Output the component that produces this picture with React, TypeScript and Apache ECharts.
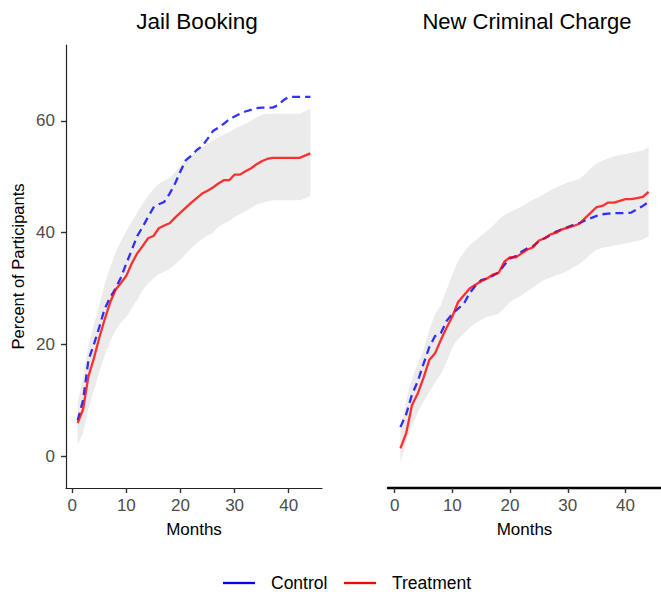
import React, { useEffect, useRef } from "react";
import * as echarts from "echarts";

const months = [1, 2, 3, 4, 5, 6, 7, 8, 9, 10, 11, 12, 13, 14, 15, 16, 17, 18, 19, 20, 21, 22, 23, 24, 25, 26, 27, 28, 29, 30, 31, 32, 33, 34, 35, 36, 37, 38, 39, 40, 41, 42, 43, 44];
const xTicks = [0, 10, 20, 30, 40];
const yTicks = [0, 20, 40, 60];
const panelTitles = ["Jail Booking", "New Criminal Charge"];
const legendNames = ["Control", "Treatment"];

const jailTreatment = [5.9, 8.4, 14.3, 17.5, 21.2, 24.5, 27.5, 29.8, 31.0, 32.3, 34.5, 36.3, 37.6, 39.0, 39.4, 40.8, 41.3, 41.7, 42.7, 43.6, 44.5, 45.4, 46.2, 47.0, 47.5, 48.1, 48.8, 49.4, 49.4, 50.4, 50.4, 51.0, 51.5, 52.2, 52.8, 53.2, 53.4, 53.4, 53.4, 53.4, 53.4, 53.4, 53.8, 54.2];
const jailControl = [6.4, 10.0, 17.2, 20.0, 23.1, 26.4, 28.4, 30.0, 32.0, 34.5, 36.9, 39.4, 41.0, 42.8, 44.5, 45.1, 45.5, 47.0, 48.8, 51.0, 53.0, 53.8, 54.8, 55.5, 56.8, 58.2, 58.8, 59.5, 60.3, 60.8, 61.3, 61.7, 62.0, 62.3, 62.4, 62.4, 62.4, 62.8, 63.7, 64.3, 64.3, 64.3, 64.3, 64.3];
const jailLower = [2.0, 4.2, 8.5, 11.8, 15.0, 18.0, 20.5, 22.6, 23.9, 24.9, 26.5, 28.0, 29.7, 30.9, 31.8, 32.6, 33.0, 33.5, 34.3, 35.2, 36.2, 37.2, 38.1, 38.9, 39.5, 40.0, 41.0, 41.6, 42.1, 42.8, 43.3, 43.8, 44.4, 45.0, 45.3, 45.6, 45.8, 45.8, 45.8, 45.8, 45.8, 45.8, 46.1, 46.6];
const jailUpper = [9.6, 14.0, 20.0, 23.5, 27.0, 30.8, 33.8, 36.5, 38.5, 40.3, 42.0, 43.6, 45.2, 46.6, 47.8, 48.7, 49.3, 49.8, 50.8, 52.0, 53.0, 53.8, 54.6, 55.3, 55.9, 56.5, 57.1, 57.6, 58.0, 58.6, 59.0, 59.5, 60.0, 60.6, 61.1, 61.3, 61.3, 61.3, 61.3, 61.3, 61.3, 61.3, 61.7, 62.2];

const chargeTreatment = [1.4, 4.1, 9.1, 11.2, 14.0, 17.2, 18.4, 20.8, 23.0, 25.0, 27.6, 28.8, 30.0, 30.7, 31.3, 31.8, 32.5, 32.8, 34.8, 35.6, 35.6, 36.3, 37.0, 37.4, 38.6, 39.0, 39.7, 40.0, 40.6, 40.9, 41.2, 41.6, 42.6, 43.6, 44.6, 44.8, 45.4, 45.4, 45.7, 46.0, 46.0, 46.2, 46.4, 47.3];
const chargeControl = [5.2, 7.5, 11.0, 13.4, 16.5, 19.5, 21.5, 22.0, 24.2, 25.5, 26.4, 27.3, 29.2, 30.5, 31.5, 31.8, 32.3, 32.9, 34.2, 35.4, 35.8, 36.6, 37.2, 37.6, 38.5, 39.0, 39.6, 40.2, 40.6, 41.0, 41.4, 41.7, 42.2, 42.6, 43.0, 43.3, 43.4, 43.5, 43.5, 43.5, 43.6, 44.2, 44.8, 45.5];
const chargeLower = [-1.3, 2.5, 5.5, 7.8, 9.8, 11.5, 13.2, 14.6, 16.8, 19.5, 21.0, 22.0, 23.0, 23.8, 24.4, 24.9, 25.2, 25.5, 26.5, 27.6, 28.2, 28.8, 29.5, 30.2, 31.0, 31.6, 32.0, 32.4, 32.7, 33.2, 33.8, 34.4, 35.2, 36.2, 37.0, 37.3, 37.5, 37.7, 37.9, 38.1, 38.3, 38.5, 38.8, 39.3];
const chargeUpper = [4.5, 10.0, 13.8, 16.5, 19.0, 22.6, 25.4, 27.0, 29.8, 32.5, 35.0, 36.5, 37.8, 38.6, 39.5, 40.3, 41.2, 42.3, 43.2, 43.7, 44.2, 44.7, 45.3, 45.9, 46.4, 47.0, 47.6, 48.1, 48.6, 49.0, 49.3, 49.6, 50.5, 51.6, 52.4, 52.9, 53.3, 53.7, 53.9, 54.1, 54.3, 54.5, 54.7, 55.4];

const FONT = "Liberation Sans, Arial, Helvetica, sans-serif";

export default function App() {
  const ref = useRef<HTMLDivElement>(null);
  useEffect(() => {
    const chart = echarts.init(ref.current!, null, { renderer: "svg" });
    const pairs = (v: number[]) => months.map((m, i) => [m, v[i]]);

    const ribbon = (idx: number, lower: number[], upper: number[]) => ({
      type: "custom", xAxisIndex: idx, yAxisIndex: idx, silent: true, z: 1,
      data: months.map((m, i) => [m, lower[i], upper[i]]),
      encode: { x: 0, y: [1, 2] },
      renderItem: (params: any, api: any) => {
        if (params.dataIndex !== 0) return { type: "group", children: [] };
        const top = months.map((m, i) => api.coord([m, upper[i]]));
        const bot = months.map((m, i) => api.coord([m, lower[i]])).reverse();
        return {
          type: "polygon",
          shape: { points: top.concat(bot) },
          style: { fill: "#ebebeb", stroke: "none" },
        };
      },
    });
    const lines = (idx: number, control: number[], treatment: number[]) => [
      {
        name: "Control", type: "line", xAxisIndex: idx, yAxisIndex: idx, data: pairs(control),
        symbol: "none", z: 3,
        lineStyle: { color: "#0000ff", opacity: 0.8, width: 2.3, type: [8, 5] },
      },
      {
        name: "Treatment", type: "line", xAxisIndex: idx, yAxisIndex: idx, data: pairs(treatment),
        symbol: "none", z: 4,
        lineStyle: { color: "#ff0000", opacity: 0.8, width: 2.3 },
      },
    ];

    const xAxisBase = (idx: number) => ({
      type: "value", gridIndex: idx, min: -1.15, max: 46.15,
      name: "Months", nameLocation: "middle", nameGap: 33,
      nameTextStyle: { fontFamily: FONT, fontSize: 17, color: "#000" },
      splitLine: { show: false },
      axisLine: { show: true, onZero: false, lineStyle: { color: idx === 0 ? "#222" : "#000", width: idx === 0 ? 1.2 : 2.4 } },
      axisTick: { show: true, length: 5, lineStyle: { color: "#333", width: 1.4 }, customValues: xTicks },
      axisLabel: { fontFamily: FONT, fontSize: 17, color: "#4d4d4d", margin: 9, customValues: xTicks },
    });

    const option: any = {
      animation: false,
      backgroundColor: "#fff",
      grid: [
        { left: 66, top: 45, width: 256, height: 443 },
        { left: 388, top: 45, width: 273, height: 443 },
      ],
      xAxis: [xAxisBase(0), xAxisBase(1)],
      yAxis: [
        {
          type: "value", gridIndex: 0, min: -5.7, max: 73.6,
          name: "Percent of Participants", nameLocation: "middle", nameGap: 40,
          nameTextStyle: { fontFamily: FONT, fontSize: 16.5, color: "#000" },
          splitLine: { show: false },
          axisLine: { show: true, onZero: false, lineStyle: { color: "#222", width: 1.2 } },
          axisTick: { show: true, length: 5, lineStyle: { color: "#333", width: 1.4 }, customValues: yTicks },
          axisLabel: { fontFamily: FONT, fontSize: 17, color: "#4d4d4d", margin: 11, customValues: yTicks },
        },
        {
          type: "value", gridIndex: 1, min: -5.7, max: 73.6,
          splitLine: { show: false },
          axisLine: { show: false },
          axisTick: { show: false },
          axisLabel: { show: false },
        },
      ],
      series: [
        ribbon(0, jailLower, jailUpper),
        ribbon(1, chargeLower, chargeUpper),
        ...lines(0, jailControl, jailTreatment),
        ...lines(1, chargeControl, chargeTreatment),
      ],
      graphic: [
        { type: "text", x: 197, y: 21, style: { text: panelTitles[0], fontFamily: FONT, fontSize: 22.5, fill: "#000", textAlign: "center", textVerticalAlign: "middle" } },
        { type: "text", x: 527, y: 21, style: { text: panelTitles[1], fontFamily: FONT, fontSize: 22, fill: "#000", textAlign: "center", textVerticalAlign: "middle" } },
        { type: "line", shape: { x1: 223, y1: 583, x2: 255, y2: 583 }, style: { stroke: "#0000ff", lineWidth: 2.3 } },
        { type: "text", x: 271, y: 583, style: { text: legendNames[0], fontFamily: FONT, fontSize: 17.5, fill: "#000", textAlign: "left", textVerticalAlign: "middle" } },
        { type: "line", shape: { x1: 344, y1: 583, x2: 376, y2: 583 }, style: { stroke: "#ff0000", lineWidth: 2.3 } },
        { type: "text", x: 392, y: 583, style: { text: legendNames[1], fontFamily: FONT, fontSize: 17.5, fill: "#000", textAlign: "left", textVerticalAlign: "middle" } },
      ],
    };
    chart.setOption(option);
    return () => chart.dispose();
  }, []);
  return <div ref={ref} style={{ position: "fixed", left: 0, top: 0, width: 661, height: 592 }} />;
}
